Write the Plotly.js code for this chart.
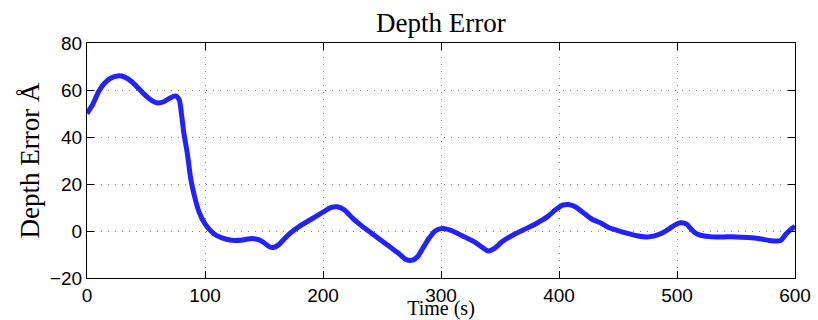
<!DOCTYPE html>
<html>
<head>
<meta charset="utf-8">
<script src="https://cdn.plot.ly/plotly-3.0.1.min.js"></script>
<style>
html,body{margin:0;padding:0;background:#fff;}
#chart{width:818px;height:320px;}
</style>
</head>
<body>
<div id="chart"></div>
<script>
const timeSec = [0,5,10,15,20,26,32,38,44,50,55,60,65,70,75,78,80,82,85,88,91,95,100,105,110,118,125,132,140,146,150,155,158,162,167,172,180,190,200,206,212,218,225,232,240,248,256,264,270,275,280,285,290,295,300,305,312,320,328,335,340,345,352,360,370,380,390,397,403,408,413,420,428,435,442,450,458,466,474,480,486,492,498,503,508,512,516,520,530,540,550,560,570,578,584,588,592,596,600];
const depthError = [50,54,59.5,63,65,66,65.5,63.5,60.5,57.5,55.5,54.5,55,56.5,57.5,56,50,42,33,22,15,8,3,0,-2,-3.5,-4,-3.8,-3.2,-3.8,-5,-6.8,-7,-6,-3.5,-1,2,5,8,9.8,10.3,9,5.5,2.5,-0.5,-3.5,-6.5,-9.5,-12,-12.5,-11,-7,-3,0,1,0.8,-0.5,-2.5,-4.5,-7,-8.5,-7.5,-4.5,-2,0.5,3,6,9,11,11.3,10.5,8,5,3.5,1.5,0.2,-1,-2,-2.5,-2.2,-1.2,0.5,2.5,3.5,3,0.8,-1,-1.8,-2.5,-2.5,-2.5,-2.8,-3.3,-4,-4.3,-4,-1.5,0.5,2];
const xTicks = [0,100,200,300,400,500,600];
const yTicks = [-20,0,20,40,60,80];

const serif = '"Liberation Serif", "Times New Roman", serif';
const sans = '"Liberation Sans", Arial, Helvetica, sans-serif';

const trace = {
  x: timeSec, y: depthError, type: 'scatter', mode: 'lines',
  line: {color: '#2222ff', width: 5, shape: 'spline', smoothing: 0.8},
  hoverinfo: 'x+y'
};

const axisCommon = {
  showline: true, linecolor: '#000', linewidth: 1, mirror: 'ticks',
  ticks: 'inside', ticklen: 7, tickcolor: '#000', tickwidth: 1,
  showgrid: true, gridcolor: '#808080', griddash: '1px,6px', gridwidth: 1,
  zeroline: false,
  tickfont: {family: sans, size: 19, color: '#000'}
};

const layout = {
  width: 818, height: 320,
  margin: {l: 87, r: 23, t: 43, b: 42},
  paper_bgcolor: '#fff', plot_bgcolor: '#fff',
  showlegend: false,
  title: {text: 'Depth Error', font: {family: serif, size: 27, color: '#000'},
          x: 0.539, xanchor: 'center', y: 0.931, yanchor: 'middle', yref: 'container'},
  xaxis: Object.assign({}, axisCommon, {
    range: [0, 600], tickvals: xTicks, ticktext: xTicks.map(String),
    title: {text: 'Time (s)', font: {family: serif, size: 20, color: '#000'}, standoff: 0}
  }),
  yaxis: Object.assign({}, axisCommon, {
    range: [-20, 80], tickvals: yTicks, ticktext: yTicks.map(v => v < 0 ? '\u2212' + Math.abs(v) : String(v)),
    title: {text: 'Depth Error \u00C5', font: {family: serif, size: 27, color: '#000'}, standoff: 2}
  })
};

Plotly.newPlot('chart', [trace], layout, {displayModeBar: false, staticPlot: true});
</script>
</body>
</html>
